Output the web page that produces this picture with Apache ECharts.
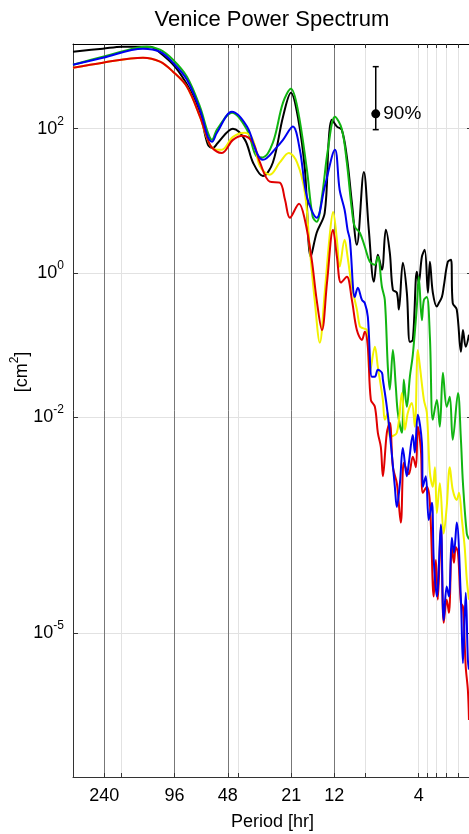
<!DOCTYPE html>
<html>
<head>
<meta charset="utf-8">
<script src="https://cdn.jsdelivr.net/npm/echarts@6/dist/echarts.min.js"></script>
<style>
  * { margin: 0; padding: 0; }
  #chart { width: 469px; height: 834px; }
</style>
</head>
<body>
<div id="chart"></div>
<script>
  // period ticks [hr]
  const periodTicks = [240, 192, 96, 48, 42, 21, 12, 8, 4, 3.6, 3.2, 2.8, 2.4]
  const periodLabels = [240, 96, 48, 21, 12, 4]
  const markedPeriods = [240, 96, 48, 21, 12]
  const powerTicks = [1e-5, 1e-2, 1, 1e2]

  // 90% confidence bar
  const ciPeriod = 7
  const ciRange = [97, 727]
  const ciCenter = 161

  const blackPeriod = [360, 244, 190, 132, 116, 95.5, 78.6, 69, 62.2, 58.3, 54.6, 44.9, 38.4, 34.6, 30.4, 26.7, 23.4, 21.1, 19.3, 17.6, 16.3, 15.1, 13.6, 12.9, 12.4, 11.6, 10.9, 10.2, 9.55, 8.95, 8.17, 7.66, 7.17, 6.81, 6.46, 6.14, 5.83, 5.60, 5.32, 5.18, 4.92, 4.67, 4.49, 4.32, 4.10, 4.00, 3.84, 3.70, 3.55, 3.46, 3.33, 3.16, 3.08, 2.96, 2.89, 2.74, 2.63, 2.57, 2.44, 2.31, 2.25, 2.17, 2.08]
  const blackPower = [1172, 1292, 1377, 1377, 1136, 727, 348, 167, 60, 54, 64, 100, 70, 34, 22, 34, 147, 316, 147, 27, 1.67, 3.6, 6.8, 70, 133, 107, 97, 41, 9.4, 2.45, 25, 3.95, 0.75, 1.78, 1.10, 3.95, 1.90, 0.58, 0.53, 0.31, 1.38, 0.53, 0.110, 0.117, 1.03, 0.73, 1.67, 2.08, 0.53, 1.42, 0.53, 0.34, 0.38, 0.46, 0.64, 1.42, 1.52, 0.38, 0.31, 0.080, 0.16, 0.094, 0.138]

  const greenPeriod = [360, 244, 156.5, 137.5, 116, 98, 81.7, 69, 62.2, 59, 55.3, 45.5, 37.4, 32.9, 30.4, 26.7, 23.4, 21.1, 19.3, 17.15, 15.9, 15.1, 14.1, 13.05, 11.9, 10.9, 10.2, 9.55, 9.19, 8.61, 8.07, 7.56, 7.08, 6.81, 6.46, 6.22, 5.98, 5.83, 5.60, 5.39, 5.25, 4.98, 4.86, 4.67, 4.49, 4.32, 4.10, 4.00, 3.84, 3.74, 3.60, 3.46, 3.33, 3.16, 3.04, 2.92, 2.78, 2.67, 2.57, 2.40, 2.31, 2.25, 2.14, 2.08]
  const greenPower = [774, 1000, 1334, 1377, 1251, 908, 527, 202, 88, 70, 97, 167, 97, 41, 40, 64, 230, 359, 184, 27, 6.0, 5.1, 11.4, 51, 147, 100, 34, 7.5, 4.35, 3.6, 2.30, 1.42, 1.29, 1.67, 0.64, 0.42, 0.049, 0.024, 0.085, 0.026, 0.0114, 0.0060, 0.033, 0.0138, 0.036, 0.073, 0.34, 0.88, 0.22, 0.42, 0.46, 0.129, 0.0091, 0.0172, 0.0073, 0.041, 0.0138, 0.019, 0.0048, 0.0215, 0.0048, 0.0012, 0.00024, 0.0002]

  const bluePeriod = [360, 244, 144.8, 116, 98, 81.7, 69, 62.2, 59, 55.3, 45.5, 37.4, 32.9, 30.4, 25.3, 23.4, 20.6, 18.8, 17.15, 15.1, 13.6, 11.9, 11.2, 10.5, 10.1, 9.8, 9.19, 8.84, 8.38, 8.07, 7.76, 7.36, 7.08, 6.81, 6.46, 6.38, 6.06, 5.83, 5.46, 5.32, 5.11, 4.92, 4.67, 4.55, 4.32, 4.21, 4.05, 3.84, 3.79, 3.65, 3.51, 3.37, 3.29, 3.16, 3.00, 2.89, 2.78, 2.70, 2.60, 2.53, 2.44, 2.31, 2.25, 2.17, 2.11, 2.08]
  const bluePower = [774, 968, 1292, 1172, 826, 480, 184, 77, 66, 88, 172, 107, 46, 37, 56, 70, 107, 51, 11.4, 5.8, 15.6, 51, 14.2, 7.5, 3.95, 2.87, 0.46, 0.62, 0.42, 0.38, 0.245, 0.036, 0.036, 0.045, 0.041, 0.033, 0.0138, 0.0060, 0.00107, 0.00056, 0.0012, 0.0037, 0.0015, 0.0023, 0.0056, 0.0032, 0.0107, 0.0044, 0.00107, 0.0015, 0.00037, 0.00064, 0.000103, 3.2e-5, 0.00032, 1.5e-5, 4.4e-5, 3.2e-5, 0.00021, 0.000129, 0.00034, 2.9e-5, 3.8e-6, 3.6e-5, 4.2e-6, 3.1e-6]

  const yellowPeriod = [360, 244, 144.8, 116, 98, 81.7, 69, 60.6, 54.6, 51.8, 44.9, 38.4, 34.6, 31.6, 27.8, 24.4, 21.7, 19.5, 17.6, 16.5, 15.5, 14.5, 13.6, 12.7, 12.2, 11.6, 11.2, 10.5, 10.1, 9.55, 8.95, 8.61, 8.28, 7.86, 7.56, 7.08, 6.81, 6.38, 6.22, 5.98, 5.83, 5.32, 4.98, 4.79, 4.61, 4.38, 4.21, 4.05, 3.95, 3.74, 3.60, 3.46, 3.33, 3.24, 3.16, 3.04, 2.89, 2.78, 2.67, 2.57, 2.44, 2.37, 2.28, 2.20, 2.14, 2.08]
  const yellowPower = [703, 826, 968, 853, 619, 383, 147, 60, 51, 51, 77, 88, 70, 30, 23, 34, 46, 34, 12.9, 2.08, 0.42, 0.107, 0.53, 3.6, 7.0, 2.87, 1.21, 2.87, 1.67, 0.64, 0.31, 0.18, 0.17, 0.16, 0.041, 0.094, 0.049, 0.0172, 0.0091, 0.0114, 0.0053, 0.0060, 0.0215, 0.0066, 0.0114, 0.0156, 0.0073, 0.085, 0.053, 0.0172, 0.0114, 0.0017, 0.00107, 0.0020, 0.00046, 0.0012, 0.00024, 0.00056, 0.0020, 0.00097, 0.0007, 0.00088, 0.00037, 0.000156, 5.5e-5, 2.9e-5]

  const redPeriod = [360, 244, 144.8, 116, 98, 81.7, 69, 60.6, 55.3, 51.8, 44.9, 39.4, 34.6, 31.6, 27.8, 24.4, 22.8, 21.4, 19.0, 17.6, 16.1, 15.1, 14.1, 13.2, 12.2, 11.6, 11.0, 10.2, 9.55, 8.95, 8.38, 8.07, 7.76, 7.46, 7.08, 6.81, 6.55, 6.38, 6.06, 5.83, 5.60, 5.32, 5.05, 4.86, 4.67, 4.55, 4.32, 4.15, 4.05, 3.89, 3.79, 3.60, 3.46, 3.29, 3.20, 3.12, 3.00, 2.89, 2.78, 2.70, 2.60, 2.53, 2.47, 2.40, 2.31, 2.25, 2.17, 2.11, 2.08]
  const redPower = [703, 826, 968, 853, 619, 383, 147, 60, 48, 46, 70, 80, 64, 34, 18.4, 17.8, 10.3, 5.8, 9.1, 5.4, 1.52, 0.42, 0.16, 0.73, 3.95, 1.67, 0.73, 0.88, 0.42, 0.16, 0.117, 0.152, 0.094, 0.0172, 0.0138, 0.0060, 0.0038, 0.0015, 0.0060, 0.0083, 0.0020, 0.0012, 0.00034, 0.0023, 0.0018, 0.0016, 0.0028, 0.0020, 0.0073, 0.0035, 0.00088, 0.00107, 0.00064, 3.2e-5, 0.000103, 2.9e-5, 0.0003, 1.38e-5, 2.9e-5, 1.9e-5, 0.000156, 9.4e-5, 0.000156, 0.000129, 2.6e-5, 2.3e-5, 3.4e-6, 1.6e-6, 6.2e-7]

  const font = 'Liberation Sans, Arial, Helvetica, sans-serif'

  function pairs (xs, ys) {
    return xs.map((x, i) => [x, ys[i]])
  }

  function spectrum (name, color, xs, ys) {
    return {
      name: name,
      type: 'line',
      data: pairs(xs, ys),
      showSymbol: false,
      smooth: 0.35,
      lineStyle: { color: color, width: 2 },
      itemStyle: { color: color },
      silent: true
    }
  }

  const periodAxis = {
    type: 'log',
    logBase: 10,
    min: 2,
    max: 360,
    inverse: true
  }

  let chart = echarts.init(document.getElementById('chart'))
  chart.setOption({
    animation: false,
    backgroundColor: '#fff',
    textStyle: { fontFamily: font },
    // plot box runs a few px past the right edge of the window
    grid: { left: 73, width: 399, top: 44, bottom: 57, outerBoundsMode: 'none', containLabel: false },
    graphic: [
      {
        type: 'text', x: 272, y: 20,
        style: { text: 'Venice Power Spectrum', font: '22px ' + font, fill: '#000', align: 'center', verticalAlign: 'middle' }
      },
      {
        type: 'text', x: 22, y: 372, rotation: Math.PI / 2,
        style: {
          text: '[cm{s|2}]', fontSize: 18, fontFamily: font, fill: '#000', lineHeight: 26,
          align: 'center', verticalAlign: 'middle',
          rich: { s: { fontSize: 12, lineHeight: 12, verticalAlign: 'top', fontFamily: font } }
        }
      }
    ],
    xAxis: [
      Object.assign({}, periodAxis, {
        position: 'bottom',
        axisLine: { show: true, lineStyle: { color: '#333', width: 1 } },
        axisTick: { show: true, inside: true, length: 4, customValues: periodTicks, lineStyle: { color: '#333' } },
        axisLabel: { customValues: periodLabels, formatter: v => String(Math.round(v)), fontSize: 18, color: '#000', margin: 10 },
        splitLine: { show: true, lineStyle: { color: '#e2e2e2', width: 1 } },
        minorTick: { show: false },
        name: 'Period [hr]',
        nameLocation: 'middle',
        nameGap: 36,
        nameTextStyle: { fontSize: 18, color: '#000' }
      }),
      Object.assign({}, periodAxis, {
        position: 'top',
        axisLine: { show: true, lineStyle: { color: '#000', width: 1 } },
        axisTick: { show: true, inside: true, length: 4, customValues: periodTicks, lineStyle: { color: '#333' } },
        axisLabel: { show: false },
        splitLine: { show: false }
      }),
      Object.assign({}, periodAxis, {
        axisLine: { show: false },
        axisTick: { show: false, customValues: markedPeriods },
        axisLabel: { show: false },
        splitLine: { show: true, lineStyle: { color: '#777', width: 1 } }
      })
    ],
    yAxis: [
      {
        type: 'log',
        logBase: 10,
        min: 1e-7,
        max: 1500,
        position: 'left',
        axisLine: { show: true, lineStyle: { color: '#333', width: 1 } },
        axisTick: { show: true, inside: true, length: 5, customValues: powerTicks, lineStyle: { color: '#333' } },
        axisLabel: {
          customValues: powerTicks,
          formatter: v => '10{e|' + Math.round(Math.log10(v)) + '}',
          fontSize: 18,
          lineHeight: 26,
          color: '#000',
          margin: 9,
          rich: { e: { fontSize: 12, lineHeight: 12, verticalAlign: 'top' } }
        },
        splitLine: { show: true, lineStyle: { color: '#e2e2e2', width: 1 } }
      },
      {
        type: 'log',
        logBase: 10,
        min: 1e-7,
        max: 1500,
        position: 'right',
        axisLine: { show: false },
        axisTick: { show: true, inside: true, length: 5, customValues: powerTicks, lineStyle: { color: '#333' } },
        axisLabel: { show: false },
        splitLine: { show: false }
      }
    ],
    series: [
      spectrum('black', '#000000', blackPeriod, blackPower),
      spectrum('green', '#11b511', greenPeriod, greenPower),
      spectrum('yellow', '#f2f200', yellowPeriod, yellowPower),
      spectrum('red', '#e00000', redPeriod, redPower),
      spectrum('blue', '#0000f0', bluePeriod, bluePower),
      {
        name: 'ci',
        type: 'line',
        data: ciRange.map(v => [ciPeriod, v]),
        symbol: 'rect',
        symbolSize: [6, 1.5],
        showSymbol: true,
        lineStyle: { color: '#000', width: 1.5 },
        itemStyle: { color: '#000' },
        silent: true
      },
      {
        name: 'ciCenter',
        type: 'scatter',
        data: [[ciPeriod, ciCenter]],
        symbolSize: 9,
        itemStyle: { color: '#000', opacity: 1 },
        label: { show: true, position: 'right', formatter: '90%', fontSize: 19, color: '#000', opacity: 1, distance: 3 },
        silent: true
      }
    ]
  })
</script>
</body>
</html>
